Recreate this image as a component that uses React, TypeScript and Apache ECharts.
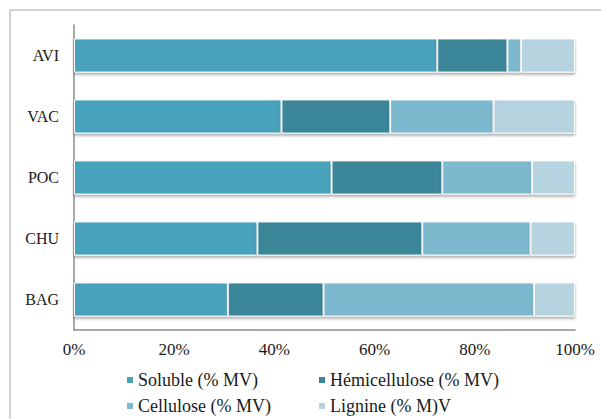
import React, { useEffect, useRef } from "react";
import * as echarts from "echarts";

const categories = ["AVI", "VAC", "POC", "CHU", "BAG"];
const seriesNames = ["Soluble (% MV)", "Hémicellulose (% MV)", "Cellulose (% MV)", "Lignine (% M)V"];
const soluble = [72.5, 41.4, 51.4, 36.6, 30.7];
const hemicellulose = [14.0, 21.7, 22.1, 32.9, 19.1];
const cellulose = [2.7, 20.6, 17.9, 21.6, 42.0];
const lignine = [10.8, 16.3, 8.6, 8.9, 8.2];
const colors = ["#48a2bb", "#3a8699", "#7cb9cf", "#b5d4e0"];

export default function App() {
  const ref = useRef<HTMLDivElement>(null);
  useEffect(() => {
    if (!ref.current) return;
    const chart = echarts.init(ref.current, null, { renderer: "svg" });
    const values = [soluble, hemicellulose, cellulose, lignine];
    const font = "Liberation Serif";
    const legendPos = [
      { left: 125, top: 371 },
      { left: 317, top: 371 },
      { left: 125, top: 397 },
      { left: 317, top: 397 },
    ];
    chart.setOption({
      animation: false,
      backgroundColor: "#ffffff",
      color: colors,
      textStyle: { fontFamily: font },
      graphic: [
        {
          type: "rect",
          shape: { x: 10, y: 10, width: 700, height: 600 },
          style: { fill: "none", stroke: "#a6a6a6", lineWidth: 1 },
          silent: true,
          z: -10,
        },
      ],
      grid: { left: 74, right: 26, top: 25, bottom: 89, containLabel: false },
      xAxis: {
        type: "value",
        min: 0,
        max: 100,
        interval: 20,
        axisLine: { show: true, lineStyle: { color: "#8c8c8c", width: 1.5 } },
        axisTick: { show: false },
        splitLine: { show: false },
        axisLabel: {
          formatter: "{value}%",
          color: "#1a1a1a",
          fontSize: 17,
          fontFamily: font,
          margin: 11,
        },
      },
      yAxis: {
        type: "category",
        data: categories,
        inverse: true,
        axisLine: { show: true, lineStyle: { color: "#8c8c8c", width: 1.5 } },
        axisTick: { show: false },
        axisLabel: { color: "#1a1a1a", fontSize: 16, fontFamily: font, margin: 15 },
      },
      legend: seriesNames.map((name, i) => ({
        data: [name],
        left: legendPos[i].left,
        top: legendPos[i].top,
        padding: 0,
        itemWidth: 8,
        itemHeight: 8,
        itemGap: 0,
        icon: "rect",
        selectedMode: false,
        textStyle: {
          fontSize: 18,
          color: "#1a1a1a",
          fontFamily: font,
          padding: [0, 0, 0, -1],
        },
      })),
      series: seriesNames.map((name, i) => ({
        name,
        type: "bar",
        stack: "total",
        barWidth: "56%",
        data: values[i],
        itemStyle: {
          color: colors[i],
          borderColor: "#ffffff",
          borderWidth: 1,
          shadowColor: "rgba(0,0,0,0.35)",
          shadowBlur: 3,
          shadowOffsetY: 2,
        },
      })),
    });
    return () => chart.dispose();
  }, []);
  return <div ref={ref} style={{ width: 601, height: 419, position: "absolute", left: 0, top: 0 }} />;
}
